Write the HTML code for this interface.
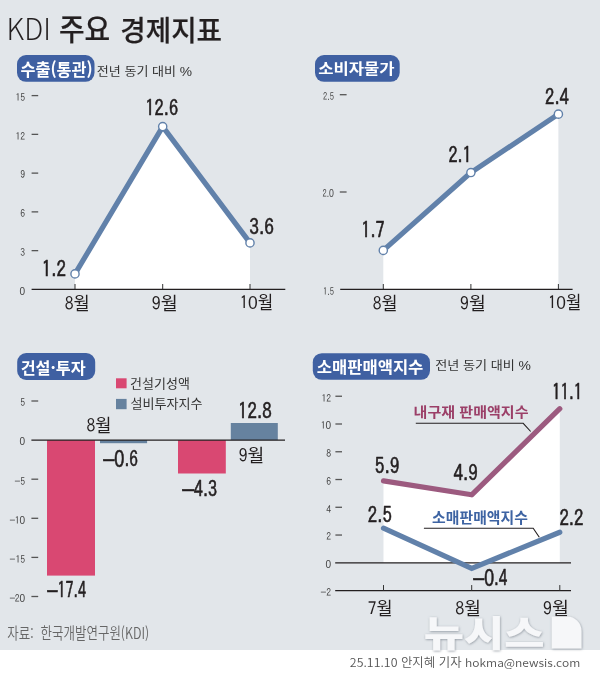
<!DOCTYPE html><html lang="ko"><head><meta charset="utf-8"><title>KDI 주요 경제지표</title>
<style>html,body{margin:0;padding:0;background:#fff}body{width:600px;height:676px;overflow:hidden}svg{display:block}</style></head><body>
<svg width="600" height="676" viewBox="0 0 600 676">
<defs><filter id="wsh" x="-10%" y="-10%" width="120%" height="130%"><feDropShadow dx="0.5" dy="0.7" stdDeviation="1.0" flood-color="#6d7580" flood-opacity="0.7"/></filter></defs>
<rect x="0" y="0" width="600" height="650" fill="#e2e6ea"/>
<rect x="0" y="650" width="600" height="26" fill="#fff"/>
<rect x="17" y="55" width="77.5" height="26.8" rx="9" fill="#3f60a2"/>
<rect x="315" y="55" width="84.7" height="26.8" rx="9" fill="#3f60a2"/>
<rect x="17.2" y="353" width="78" height="27" rx="9" fill="#3f60a2"/>
<rect x="312.8" y="353.2" width="117.2" height="26.6" rx="9" fill="#3f60a2"/>
<polygon points="75.00,273.90 162.70,126.61 250.00,242.89 250,289.4 75,289.4" fill="#fff"/>
<line x1="31.6" y1="95.6" x2="38.2" y2="95.6" stroke="#555" stroke-width="1.3"/><line x1="31.6" y1="134.36" x2="38.2" y2="134.36" stroke="#555" stroke-width="1.3"/><line x1="31.6" y1="173.12" x2="38.2" y2="173.12" stroke="#555" stroke-width="1.3"/><line x1="31.6" y1="211.88" x2="38.2" y2="211.88" stroke="#555" stroke-width="1.3"/><line x1="31.6" y1="250.64" x2="38.2" y2="250.64" stroke="#555" stroke-width="1.3"/>
<line x1="75" y1="284" x2="75" y2="289.4" stroke="#333" stroke-width="1"/><line x1="162.7" y1="284" x2="162.7" y2="289.4" stroke="#333" stroke-width="1"/><line x1="250" y1="284" x2="250" y2="289.4" stroke="#333" stroke-width="1"/>
<line x1="31.6" y1="289.4" x2="285.3" y2="289.4" stroke="#231f20" stroke-width="1.3"/>
<polyline points="75.00,273.90 162.70,126.61 250.00,242.89" fill="none" stroke="#6181aa" stroke-width="5.2" stroke-linejoin="round"/>
<circle cx="75.00" cy="273.90" r="4.1" fill="#fff" stroke="#6181aa" stroke-width="1.4"/><circle cx="162.70" cy="126.61" r="4.1" fill="#fff" stroke="#6181aa" stroke-width="1.4"/><circle cx="250.00" cy="242.89" r="4.1" fill="#fff" stroke="#6181aa" stroke-width="1.4"/>
<polygon points="383.30,250.38 470.90,172.54 558.40,114.16 558.4,289.3 383.3,289.3" fill="#fff"/>
<line x1="339.8" y1="94.7" x2="346.6" y2="94.7" stroke="#555" stroke-width="1.3"/><line x1="339.8" y1="192.0" x2="346.6" y2="192.0" stroke="#555" stroke-width="1.3"/>
<line x1="383.3" y1="284" x2="383.3" y2="289.3" stroke="#333" stroke-width="1"/><line x1="470.9" y1="284" x2="470.9" y2="289.3" stroke="#333" stroke-width="1"/><line x1="558.4" y1="284" x2="558.4" y2="289.3" stroke="#333" stroke-width="1"/>
<line x1="340.2" y1="289.3" x2="572.6" y2="289.3" stroke="#231f20" stroke-width="1.3"/>
<polyline points="383.30,250.38 470.90,172.54 558.40,114.16" fill="none" stroke="#6181aa" stroke-width="5.2" stroke-linejoin="round"/>
<circle cx="383.30" cy="250.38" r="4.1" fill="#fff" stroke="#6181aa" stroke-width="1.4"/><circle cx="470.90" cy="172.54" r="4.1" fill="#fff" stroke="#6181aa" stroke-width="1.4"/><circle cx="558.40" cy="114.16" r="4.1" fill="#fff" stroke="#6181aa" stroke-width="1.4"/>
<line x1="31.4" y1="401.0" x2="38.2" y2="401.0" stroke="#555" stroke-width="1.3"/><line x1="31.4" y1="479.2" x2="38.2" y2="479.2" stroke="#555" stroke-width="1.3"/><line x1="31.4" y1="518.3" x2="38.2" y2="518.3" stroke="#555" stroke-width="1.3"/><line x1="31.4" y1="557.4" x2="38.2" y2="557.4" stroke="#555" stroke-width="1.3"/><line x1="31.4" y1="596.5" x2="38.2" y2="596.5" stroke="#555" stroke-width="1.3"/>
<rect x="47" y="440.1" width="48" height="135.5" fill="#d94872"/>
<rect x="100" y="440.1" width="47.1" height="3.1" fill="#66829f"/>
<rect x="178" y="440.1" width="47.8" height="33.4" fill="#d94872"/>
<rect x="230.8" y="423" width="47" height="17.1" fill="#66829f"/>
<line x1="31.4" y1="440.1" x2="285" y2="440.1" stroke="#231f20" stroke-width="1.3"/>
<rect x="116" y="378.3" width="10.6" height="10" fill="#d94872"/>
<rect x="116" y="398.9" width="10.6" height="10.3" fill="#66829f"/>
<polygon points="383.50,480.91 471.70,494.79 559.80,408.73 559.80,562.80 484.90,562.80 471.70,568.35 459.60,562.80 383.50,562.80" fill="#fff"/>
<line x1="335.4" y1="396.24" x2="342.0" y2="396.24" stroke="#555" stroke-width="1.3"/><line x1="335.4" y1="424.0" x2="342.0" y2="424.0" stroke="#555" stroke-width="1.3"/><line x1="335.4" y1="451.76" x2="342.0" y2="451.76" stroke="#555" stroke-width="1.3"/><line x1="335.4" y1="479.52" x2="342.0" y2="479.52" stroke="#555" stroke-width="1.3"/><line x1="335.4" y1="507.28" x2="342.0" y2="507.28" stroke="#555" stroke-width="1.3"/><line x1="335.4" y1="535.04" x2="342.0" y2="535.04" stroke="#555" stroke-width="1.3"/>
<line x1="335.2" y1="562.80" x2="571" y2="562.80" stroke="#231f20" stroke-width="1.3"/>
<line x1="335.2" y1="590.56" x2="571" y2="590.56" stroke="#231f20" stroke-width="1.3"/>
<line x1="383.5" y1="585.06" x2="383.5" y2="590.56" stroke="#333" stroke-width="1"/><line x1="471.7" y1="585.06" x2="471.7" y2="590.56" stroke="#333" stroke-width="1"/><line x1="559.8" y1="585.06" x2="559.8" y2="590.56" stroke="#333" stroke-width="1"/>
<polyline points="383.50,480.91 471.70,494.79 559.80,408.73" fill="none" stroke="#9c5a7f" stroke-width="5.2" stroke-linejoin="round" stroke-linecap="round"/>
<polyline points="383.50,528.10 471.70,568.35 559.80,532.26" fill="none" stroke="#6181aa" stroke-width="5.2" stroke-linejoin="miter" stroke-linecap="round"/>
<polyline points="415.8,423.3 523.2,423.3 530.7,431.5" fill="none" stroke="#231f20" stroke-width="1.1"/>
<polyline points="423.9,528.3 533.2,528.3 539.3,537.3" fill="none" stroke="#231f20" stroke-width="1.1"/>
<text transform="translate(25.2,100.97) scale(0.94,1)" text-anchor="end" font-family='"IPAGothic","Noto Sans CJK KR",sans-serif' font-size="10.3" fill="#444">15</text><text transform="translate(25.2,139.73) scale(0.94,1)" text-anchor="end" font-family='"IPAGothic","Noto Sans CJK KR",sans-serif' font-size="10.3" fill="#444">12</text><text transform="translate(25.2,178.49) scale(0.94,1)" text-anchor="end" font-family='"IPAGothic","Noto Sans CJK KR",sans-serif' font-size="10.3" fill="#444">9</text><text transform="translate(25.2,217.25) scale(0.94,1)" text-anchor="end" font-family='"IPAGothic","Noto Sans CJK KR",sans-serif' font-size="10.3" fill="#444">6</text><text transform="translate(25.2,256.01) scale(0.94,1)" text-anchor="end" font-family='"IPAGothic","Noto Sans CJK KR",sans-serif' font-size="10.3" fill="#444">3</text><text transform="translate(25.2,294.77) scale(0.94,1)" text-anchor="end" font-family='"IPAGothic","Noto Sans CJK KR",sans-serif' font-size="10.3" fill="#444"><tspan font-family="Liberation Sans" font-size="10.71">0</tspan></text>
<text transform="translate(333.9,100.07) scale(0.82,1)" text-anchor="end" font-family='"IPAGothic","Noto Sans CJK KR",sans-serif' font-size="10.3" fill="#444">2<tspan font-family="Liberation Sans" baseline-shift="0.3">.</tspan>5</text><text transform="translate(333.9,197.37) scale(0.82,1)" text-anchor="end" font-family='"IPAGothic","Noto Sans CJK KR",sans-serif' font-size="10.3" fill="#444">2<tspan font-family="Liberation Sans" baseline-shift="0.3">.</tspan><tspan font-family="Liberation Sans" font-size="10.71">0</tspan></text><text transform="translate(333.9,294.67) scale(0.82,1)" text-anchor="end" font-family='"IPAGothic","Noto Sans CJK KR",sans-serif' font-size="10.3" fill="#444">1<tspan font-family="Liberation Sans" baseline-shift="0.3">.</tspan>5</text>
<text transform="translate(25.2,406.37) scale(0.94,1)" text-anchor="end" font-family='"IPAGothic","Noto Sans CJK KR",sans-serif' font-size="10.3" fill="#444">5</text><text transform="translate(25.2,445.47) scale(0.94,1)" text-anchor="end" font-family='"IPAGothic","Noto Sans CJK KR",sans-serif' font-size="10.3" fill="#444"><tspan font-family="Liberation Sans" font-size="10.71">0</tspan></text><text transform="translate(25.2,484.57) scale(0.94,1)" text-anchor="end" font-family='"IPAGothic","Noto Sans CJK KR",sans-serif' font-size="10.3" fill="#444">5</text><text transform="translate(14.14,484.57) scale(1.225,1)" font-family='"IPAGothic","Noto Sans CJK KR",sans-serif' font-size="10.3" fill="#444">−</text><text transform="translate(25.2,523.67) scale(0.94,1)" text-anchor="end" font-family='"IPAGothic","Noto Sans CJK KR",sans-serif' font-size="10.3" fill="#444">1<tspan font-family="Liberation Sans" font-size="10.71">0</tspan></text><text transform="translate(9.30,523.67) scale(1.225,1)" font-family='"IPAGothic","Noto Sans CJK KR",sans-serif' font-size="10.3" fill="#444">−</text><text transform="translate(25.2,562.77) scale(0.94,1)" text-anchor="end" font-family='"IPAGothic","Noto Sans CJK KR",sans-serif' font-size="10.3" fill="#444">15</text><text transform="translate(9.30,562.77) scale(1.225,1)" font-family='"IPAGothic","Noto Sans CJK KR",sans-serif' font-size="10.3" fill="#444">−</text><text transform="translate(25.2,601.87) scale(0.94,1)" text-anchor="end" font-family='"IPAGothic","Noto Sans CJK KR",sans-serif' font-size="10.3" fill="#444">2<tspan font-family="Liberation Sans" font-size="10.71">0</tspan></text><text transform="translate(9.30,601.87) scale(1.225,1)" font-family='"IPAGothic","Noto Sans CJK KR",sans-serif' font-size="10.3" fill="#444">−</text>
<text transform="translate(331.2,401.61) scale(0.94,1)" text-anchor="end" font-family='"IPAGothic","Noto Sans CJK KR",sans-serif' font-size="10.3" fill="#444">12</text><text transform="translate(331.2,429.37) scale(0.94,1)" text-anchor="end" font-family='"IPAGothic","Noto Sans CJK KR",sans-serif' font-size="10.3" fill="#444">1<tspan font-family="Liberation Sans" font-size="10.71">0</tspan></text><text transform="translate(331.2,457.13) scale(0.94,1)" text-anchor="end" font-family='"IPAGothic","Noto Sans CJK KR",sans-serif' font-size="10.3" fill="#444">8</text><text transform="translate(331.2,484.89) scale(0.94,1)" text-anchor="end" font-family='"IPAGothic","Noto Sans CJK KR",sans-serif' font-size="10.3" fill="#444">6</text><text transform="translate(331.2,512.65) scale(0.94,1)" text-anchor="end" font-family='"IPAGothic","Noto Sans CJK KR",sans-serif' font-size="10.3" fill="#444">4</text><text transform="translate(331.2,540.41) scale(0.94,1)" text-anchor="end" font-family='"IPAGothic","Noto Sans CJK KR",sans-serif' font-size="10.3" fill="#444">2</text><text transform="translate(331.2,568.17) scale(0.94,1)" text-anchor="end" font-family='"IPAGothic","Noto Sans CJK KR",sans-serif' font-size="10.3" fill="#444"><tspan font-family="Liberation Sans" font-size="10.71">0</tspan></text><text transform="translate(331.2,595.93) scale(0.94,1)" text-anchor="end" font-family='"IPAGothic","Noto Sans CJK KR",sans-serif' font-size="10.3" fill="#444">2</text><text transform="translate(320.14,595.93) scale(1.225,1)" font-family='"IPAGothic","Noto Sans CJK KR",sans-serif' font-size="10.3" fill="#444">−</text>
<text x="6.58" y="40.43" font-family='"Noto Sans CJK KR","Liberation Sans",sans-serif' font-size="30.23" font-weight="300" fill="#231f20" textLength="44.32" lengthAdjust="spacingAndGlyphs">KDI</text>
<text x="58.92" y="40.44" font-family='"Noto Sans CJK KR","Liberation Sans",sans-serif' font-size="29.58" font-weight="500" fill="#231f20" textLength="51.30" lengthAdjust="spacingAndGlyphs" stroke="#231f20" stroke-width="0.2" stroke-linejoin="round">주요</text>
<text x="120.22" y="40.53" font-family='"Noto Sans CJK KR","Liberation Sans",sans-serif' font-size="28.00" font-weight="500" fill="#231f20" textLength="101.88" lengthAdjust="spacingAndGlyphs" stroke="#231f20" stroke-width="0.2" stroke-linejoin="round">경제지표</text>
<text x="20.46" y="75.94" font-family='"Noto Sans CJK KR","Liberation Sans",sans-serif' font-size="17.18" font-weight="700" fill="#fff" textLength="72.16" lengthAdjust="spacingAndGlyphs">수출(통관)</text>
<text x="318.21" y="73.86" font-family='"Noto Sans CJK KR","Liberation Sans",sans-serif' font-size="14.62" font-weight="700" fill="#fff" textLength="76.44" lengthAdjust="spacingAndGlyphs">소비자물가</text>
<text x="20.66" y="373.61" font-family='"Noto Sans CJK KR","Liberation Sans",sans-serif' font-size="15.95" font-weight="700" fill="#fff" textLength="65.08" lengthAdjust="spacingAndGlyphs">건설·투자</text>
<text x="316.69" y="372.77" font-family='"Noto Sans CJK KR","Liberation Sans",sans-serif' font-size="16.43" font-weight="700" fill="#fff" textLength="106.68" lengthAdjust="spacingAndGlyphs">소매판매액지수</text>
<text x="96.84" y="76.03" font-family='"Noto Sans CJK KR","Liberation Sans",sans-serif' font-size="12.07" font-weight="400" fill="#333" textLength="95.13" lengthAdjust="spacingAndGlyphs">전년 동기 대비 <tspan font-family="Liberation Sans" font-size="12.8">%</tspan></text>
<text x="435.25" y="370.48" font-family='"Noto Sans CJK KR","Liberation Sans",sans-serif' font-size="12.02" font-weight="400" fill="#333" textLength="95.73" lengthAdjust="spacingAndGlyphs">전년 동기 대비 <tspan font-family="Liberation Sans" font-size="12.8">%</tspan></text>
<text x="41.64" y="276.83" font-family='"IPAGothic","Noto Sans CJK KR",sans-serif' font-size="22.50" font-weight="400" fill="#231f20" textLength="24.33" lengthAdjust="spacingAndGlyphs" stroke="#231f20" stroke-width="0.6" stroke-linejoin="round">1<tspan font-family="Liberation Sans" baseline-shift="0.6">.</tspan>2</text>
<text x="145.35" y="116.36" font-family='"IPAGothic","Noto Sans CJK KR",sans-serif' font-size="22.50" font-weight="400" fill="#231f20" textLength="32.76" lengthAdjust="spacingAndGlyphs" stroke="#231f20" stroke-width="0.6" stroke-linejoin="round">12<tspan font-family="Liberation Sans" baseline-shift="0.6">.</tspan>6</text>
<text x="249.15" y="234.64" font-family='"IPAGothic","Noto Sans CJK KR",sans-serif' font-size="22.50" font-weight="400" fill="#231f20" textLength="24.88" lengthAdjust="spacingAndGlyphs" stroke="#231f20" stroke-width="0.6" stroke-linejoin="round">3<tspan font-family="Liberation Sans" baseline-shift="0.6">.</tspan>6</text>
<text x="361.34" y="238.20" font-family='"IPAGothic","Noto Sans CJK KR",sans-serif' font-size="22.50" font-weight="400" fill="#231f20" textLength="23.34" lengthAdjust="spacingAndGlyphs" stroke="#231f20" stroke-width="0.6" stroke-linejoin="round">1<tspan font-family="Liberation Sans" baseline-shift="0.6">.</tspan>7</text>
<text x="448.39" y="162.95" font-family='"IPAGothic","Noto Sans CJK KR",sans-serif' font-size="22.50" font-weight="400" fill="#231f20" textLength="23.18" lengthAdjust="spacingAndGlyphs" stroke="#231f20" stroke-width="0.6" stroke-linejoin="round">2<tspan font-family="Liberation Sans" baseline-shift="0.6">.</tspan>1</text>
<text x="545.12" y="105.14" font-family='"IPAGothic","Noto Sans CJK KR",sans-serif' font-size="22.50" font-weight="400" fill="#231f20" textLength="23.80" lengthAdjust="spacingAndGlyphs" stroke="#231f20" stroke-width="0.6" stroke-linejoin="round">2<tspan font-family="Liberation Sans" baseline-shift="0.6">.</tspan>4</text>
<text x="47.15" y="598.49" font-family='"IPAGothic","Noto Sans CJK KR",sans-serif' font-size="22.50" font-weight="400" fill="#231f20" textLength="38.79" lengthAdjust="spacingAndGlyphs" stroke="#231f20" stroke-width="0.6" stroke-linejoin="round"><tspan font-family="Liberation Sans" font-size="26">–</tspan>17<tspan font-family="Liberation Sans" baseline-shift="0.6">.</tspan>4</text>
<text x="103.14" y="466.50" font-family='"IPAGothic","Noto Sans CJK KR",sans-serif' font-size="22.50" font-weight="400" fill="#231f20" textLength="34.89" lengthAdjust="spacingAndGlyphs" stroke="#231f20" stroke-width="0.6" stroke-linejoin="round"><tspan font-family="Liberation Sans" font-size="26">–</tspan><tspan font-family="Liberation Sans" font-size="23.4">0</tspan><tspan font-family="Liberation Sans" baseline-shift="0.6">.</tspan>6</text>
<text x="182.15" y="497.05" font-family='"IPAGothic","Noto Sans CJK KR",sans-serif' font-size="22.50" font-weight="400" fill="#231f20" textLength="35.03" lengthAdjust="spacingAndGlyphs" stroke="#231f20" stroke-width="0.6" stroke-linejoin="round"><tspan font-family="Liberation Sans" font-size="26">–</tspan>4<tspan font-family="Liberation Sans" baseline-shift="0.6">.</tspan>3</text>
<text x="238.07" y="418.57" font-family='"IPAGothic","Noto Sans CJK KR",sans-serif' font-size="22.50" font-weight="400" fill="#231f20" textLength="33.54" lengthAdjust="spacingAndGlyphs" stroke="#231f20" stroke-width="0.6" stroke-linejoin="round">12<tspan font-family="Liberation Sans" baseline-shift="0.6">.</tspan>8</text>
<text x="374.76" y="474.03" font-family='"IPAGothic","Noto Sans CJK KR",sans-serif' font-size="22.50" font-weight="400" fill="#231f20" textLength="24.71" lengthAdjust="spacingAndGlyphs" stroke="#231f20" stroke-width="0.6" stroke-linejoin="round">5<tspan font-family="Liberation Sans" baseline-shift="0.6">.</tspan>9</text>
<text x="453.51" y="480.99" font-family='"IPAGothic","Noto Sans CJK KR",sans-serif' font-size="22.50" font-weight="400" fill="#231f20" textLength="24.33" lengthAdjust="spacingAndGlyphs" stroke="#231f20" stroke-width="0.6" stroke-linejoin="round">4<tspan font-family="Liberation Sans" baseline-shift="0.6">.</tspan>9</text>
<text x="551.92" y="400.15" font-family='"IPAGothic","Noto Sans CJK KR",sans-serif' font-size="22.50" font-weight="400" fill="#231f20" textLength="30.48" lengthAdjust="spacingAndGlyphs" stroke="#231f20" stroke-width="0.6" stroke-linejoin="round">11<tspan font-family="Liberation Sans" baseline-shift="0.6">.</tspan>1</text>
<text x="367.81" y="523.36" font-family='"IPAGothic","Noto Sans CJK KR",sans-serif' font-size="22.50" font-weight="400" fill="#231f20" textLength="24.03" lengthAdjust="spacingAndGlyphs" stroke="#231f20" stroke-width="0.6" stroke-linejoin="round">2<tspan font-family="Liberation Sans" baseline-shift="0.6">.</tspan>5</text>
<text x="473.19" y="585.91" font-family='"IPAGothic","Noto Sans CJK KR",sans-serif' font-size="22.50" font-weight="400" fill="#231f20" textLength="34.06" lengthAdjust="spacingAndGlyphs" stroke="#231f20" stroke-width="0.6" stroke-linejoin="round"><tspan font-family="Liberation Sans" font-size="26">–</tspan><tspan font-family="Liberation Sans" font-size="23.4">0</tspan><tspan font-family="Liberation Sans" baseline-shift="0.6">.</tspan>4</text>
<text x="559.41" y="526.17" font-family='"IPAGothic","Noto Sans CJK KR",sans-serif' font-size="22.50" font-weight="400" fill="#231f20" textLength="24.16" lengthAdjust="spacingAndGlyphs" stroke="#231f20" stroke-width="0.6" stroke-linejoin="round">2<tspan font-family="Liberation Sans" baseline-shift="0.6">.</tspan>2</text>
<text x="64.63" y="309.60" font-family='"IPAGothic","Noto Sans CJK KR",sans-serif' font-size="18.24" font-weight="400" fill="#231f20" textLength="25.03" lengthAdjust="spacingAndGlyphs">8월</text>
<text x="151.60" y="309.60" font-family='"IPAGothic","Noto Sans CJK KR",sans-serif' font-size="18.24" font-weight="400" fill="#231f20" textLength="26.25" lengthAdjust="spacingAndGlyphs">9월</text>
<text x="239.68" y="309.21" font-family='"IPAGothic","Noto Sans CJK KR",sans-serif' font-size="18.24" font-weight="400" fill="#231f20" textLength="33.61" lengthAdjust="spacingAndGlyphs">1<tspan font-family="Liberation Sans" font-size="18.9">0</tspan>월</text>
<text x="372.69" y="309.60" font-family='"IPAGothic","Noto Sans CJK KR",sans-serif' font-size="18.24" font-weight="400" fill="#231f20" textLength="24.79" lengthAdjust="spacingAndGlyphs">8월</text>
<text x="459.76" y="309.60" font-family='"IPAGothic","Noto Sans CJK KR",sans-serif' font-size="18.24" font-weight="400" fill="#231f20" textLength="26.02" lengthAdjust="spacingAndGlyphs">9월</text>
<text x="547.93" y="309.21" font-family='"IPAGothic","Noto Sans CJK KR",sans-serif' font-size="18.24" font-weight="400" fill="#231f20" textLength="33.36" lengthAdjust="spacingAndGlyphs">1<tspan font-family="Liberation Sans" font-size="18.9">0</tspan>월</text>
<text x="86.38" y="431.82" font-family='"IPAGothic","Noto Sans CJK KR",sans-serif' font-size="18.24" font-weight="400" fill="#231f20" textLength="25.02" lengthAdjust="spacingAndGlyphs">8월</text>
<text x="238.41" y="461.82" font-family='"IPAGothic","Noto Sans CJK KR",sans-serif' font-size="18.24" font-weight="400" fill="#231f20" textLength="25.82" lengthAdjust="spacingAndGlyphs">9월</text>
<text x="367.84" y="614.82" font-family='"IPAGothic","Noto Sans CJK KR",sans-serif' font-size="18.24" font-weight="400" fill="#231f20" textLength="24.88" lengthAdjust="spacingAndGlyphs">7월</text>
<text x="455.32" y="614.82" font-family='"IPAGothic","Noto Sans CJK KR",sans-serif' font-size="18.24" font-weight="400" fill="#231f20" textLength="25.75" lengthAdjust="spacingAndGlyphs">8월</text>
<text x="542.73" y="614.97" font-family='"IPAGothic","Noto Sans CJK KR",sans-serif' font-size="18.24" font-weight="400" fill="#231f20" textLength="26.09" lengthAdjust="spacingAndGlyphs">9월</text>
<text x="130.11" y="387.84" font-family='"Noto Sans CJK KR","Liberation Sans",sans-serif' font-size="12.59" font-weight="400" fill="#333" textLength="59.80" lengthAdjust="spacingAndGlyphs">건설기성액</text>
<text x="130.40" y="408.29" font-family='"Noto Sans CJK KR","Liberation Sans",sans-serif' font-size="12.60" font-weight="400" fill="#333" textLength="72.20" lengthAdjust="spacingAndGlyphs">설비투자지수</text>
<text x="413.59" y="417.12" font-family='"Noto Sans CJK KR","Liberation Sans",sans-serif' font-size="13.81" font-weight="700" fill="#9b3f68" textLength="114.97" lengthAdjust="spacingAndGlyphs">내구재 판매액지수</text>
<text x="432.11" y="522.61" font-family='"Noto Sans CJK KR","Liberation Sans",sans-serif' font-size="14.68" font-weight="700" fill="#3e64a3" textLength="95.72" lengthAdjust="spacingAndGlyphs">소매판매액지수</text>
<text x="7.27" y="638.96" font-family='"Noto Sans CJK KR","Liberation Sans",sans-serif' font-size="15.50" font-weight="350" fill="#666" textLength="141.94" lengthAdjust="spacingAndGlyphs">자료:  한국개발연구원(KDI)</text>
<text x="349.85" y="667.18" font-family='"Noto Sans CJK KR","Liberation Sans",sans-serif' font-size="11.99" font-weight="350" fill="#555" textLength="111.72" lengthAdjust="spacingAndGlyphs">25.11.10 안지혜 기자</text>
<text x="465.11" y="666.82" font-family='"Noto Sans CJK KR","Liberation Sans",sans-serif' font-size="11.10" font-weight="350" fill="#555" textLength="115.11" lengthAdjust="spacingAndGlyphs">hokma@newsis.com</text>
<text x="423.80" y="646.83" font-family='"Noto Sans CJK KR","Liberation Sans",sans-serif' font-size="36.45" font-weight="900" fill="#f6f7f9" textLength="120.67" lengthAdjust="spacingAndGlyphs" filter="url(#wsh)">뉴시스</text>
<g fill="#f6f7f9" filter="url(#wsh)"><path d="M551.7,616.4 H567 A14.5,14.5 0 0 1 581.5,630.9 V648.5 H551.7 Z"/></g>
</svg></body></html>
